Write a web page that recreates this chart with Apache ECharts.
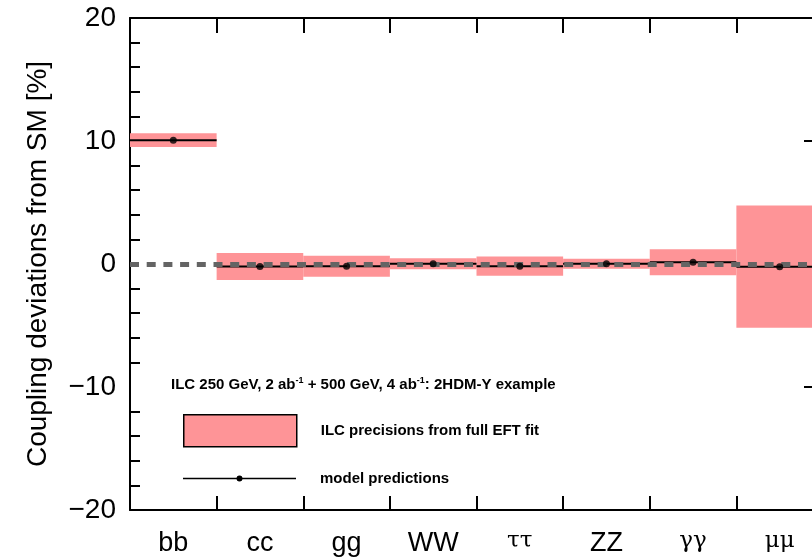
<!DOCTYPE html>
<html>
<head>
<meta charset="utf-8">
<script src="https://cdn.jsdelivr.net/npm/echarts@6/dist/echarts.min.js"></script>
<style>
  html, body { margin: 0; padding: 0; background: #fff; }
  #chart { width: 812px; height: 560px; }
</style>
</head>
<body>
<div id="chart"></div>
<script>
// couplings and values (in %)
const categories = ['bb', 'cc', 'gg', 'WW', 'ττ', 'ZZ', 'γγ', 'μμ']
const modelValues = [10.07, -0.2, -0.18, 0.02, -0.18, 0.02, 0.14, -0.22]
const precisions = [0.55, 1.1, 0.85, 0.45, 0.78, 0.4, 1.06, 4.97]
const yTicks = [-20, -10, 0, 10, 20]

const PINK = '#fe9497'
const FONT = 'Liberation Sans'

const chart = echarts.init(document.getElementById('chart'))

function boxItem(params, api) {
  const i = api.value(0)
  const v = api.value(1)
  const e = api.value(2)
  const w = api.size([1, 0])[0]
  const top = api.coord([i, v + e])
  const bot = api.coord([i, v - e])
  return {
    type: 'rect',
    shape: { x: top[0] - w / 2, y: top[1], width: w, height: bot[1] - top[1] },
    style: { fill: PINK }
  }
}

function modelItem(params, api) {
  const i = api.value(0)
  const v = api.value(1)
  const w = api.size([1, 0])[0]
  const p = api.coord([i, v])
  return {
    type: 'line',
    shape: { x1: p[0] - w / 2, y1: p[1], x2: p[0] + w / 2, y2: p[1] },
    style: { stroke: '#000', lineWidth: 2 }
  }
}

const minus = (v) => (v < 0 ? '\u2212' + Math.abs(v) : String(v))
const tickStyle = { color: '#000', width: 2 }

const option = {
  animation: false,
  title: {
    text: '{a|ILC 250 GeV, 2 ab}{s|-1}{a| + 500 GeV, 4 ab}{s|-1}{a|: 2HDM-Y example}',
    left: 171,
    top: 376,
    padding: 0,
    textStyle: {
      rich: {
        a: { fontFamily: FONT, fontWeight: 'bold', fontSize: 15, color: '#000', lineHeight: 18 },
        s: { fontFamily: FONT, fontWeight: 'bold', fontSize: 9, color: '#000', lineHeight: 18, verticalAlign: 'top' }
      }
    }
  },
  legend: [
    {
      data: [{ name: 'ILC precisions from full EFT fit', icon: 'rect' }],
      left: 183,
      top: 414,
      padding: 0,
      itemWidth: 113,
      itemHeight: 32,
      selectedMode: false,
      itemStyle: { color: PINK, borderColor: '#000', borderWidth: 1.5 },
      textStyle: { fontFamily: FONT, fontWeight: 'bold', fontSize: 15, color: '#000', padding: [0, 0, 0, 19] }
    },
    {
      data: [{
        name: 'model predictions',
        icon: 'path://M0,2.25L113,2.25L113,3.75L0,3.75Z M53.5,3a3,3 0 1,1 6,0a3,3 0 1,1 -6,0Z'
      }],
      left: 183,
      top: 471,
      padding: 0,
      itemWidth: 113,
      itemHeight: 6,
      selectedMode: false,
      itemStyle: { color: '#000' },
      textStyle: { fontFamily: FONT, fontWeight: 'bold', fontSize: 15, color: '#000', padding: [0, 0, 0, 19] }
    }
  ],
  grid: { left: 130, top: 18, width: 693, height: 492, outerBoundsMode: 'none' },
  xAxis: [
    {
      type: 'category',
      data: categories,
      position: 'bottom',
      axisLine: { onZero: false, lineStyle: { color: '#000', width: 2 } },
      axisTick: { show: true, interval: 0, inside: true, length: 14, lineStyle: tickStyle },
      axisLabel: {
        interval: 0,
        margin: 20,
        color: '#000',
        fontFamily: FONT,
        fontSize: 27,
        formatter: (v) => (/[τγμ]/.test(v) ? '{g|' + v + '}' : v),
        rich: { g: { fontFamily: 'DejaVu Serif', fontSize: 23, color: '#000' } }
      },
      splitLine: { show: false }
    },
    {
      type: 'category',
      data: categories,
      position: 'top',
      axisLine: { onZero: false, lineStyle: { color: '#000', width: 2 } },
      axisTick: { show: true, interval: 0, inside: true, length: 15, lineStyle: tickStyle },
      axisLabel: { show: false },
      splitLine: { show: false }
    }
  ],
  yAxis: [
    {
      type: 'value',
      position: 'left',
      min: yTicks[0],
      max: yTicks[yTicks.length - 1],
      interval: 10,
      name: 'Coupling deviations from SM [%]',
      nameLocation: 'middle',
      nameRotate: 90,
      nameGap: 78,
      nameTextStyle: { fontFamily: FONT, fontSize: 28, color: '#000' },
      axisLine: { show: true, onZero: false, lineStyle: { color: '#000', width: 2 } },
      axisTick: { inside: true, length: 19, lineStyle: tickStyle },
      minorTick: { show: true, splitNumber: 5, length: 10, lineStyle: tickStyle },
      axisLabel: { margin: 14, color: '#000', fontFamily: FONT, fontSize: 28, formatter: minus },
      splitLine: { show: false }
    },
    {
      type: 'value',
      position: 'right',
      min: yTicks[0],
      max: yTicks[yTicks.length - 1],
      interval: 10,
      axisLine: { show: true, onZero: false, lineStyle: { color: '#000', width: 2 } },
      axisTick: { show: true, inside: true, length: 19, lineStyle: tickStyle },
      minorTick: { show: true, splitNumber: 5, length: 10, lineStyle: tickStyle },
      axisLabel: { show: false },
      splitLine: { show: false }
    }
  ],
  series: [
    {
      name: 'ILC precisions from full EFT fit',
      type: 'custom',
      z: 1,
      itemStyle: { color: PINK },
      renderItem: boxItem,
      data: categories.map((c, i) => [i, modelValues[i], precisions[i]])
    },
    {
      name: 'model predictions',
      type: 'custom',
      z: 2,
      itemStyle: { color: '#000' },
      renderItem: modelItem,
      data: categories.map((c, i) => [i, modelValues[i]])
    },
    {
      type: 'scatter',
      z: 6,
      symbolSize: 7,
      itemStyle: { color: '#000' },
      data: categories.map((c, i) => [i, modelValues[i]]),
      markLine: {
        silent: true,
        symbol: 'none',
        label: { show: false },
        lineStyle: { color: '#646464', width: 5, type: [9, 7.7] },
        data: [{ yAxis: 0 }]
      }
    }
  ]
}

chart.setOption(option)
window.addEventListener('resize', () => chart.resize())
</script>
</body>
</html>
